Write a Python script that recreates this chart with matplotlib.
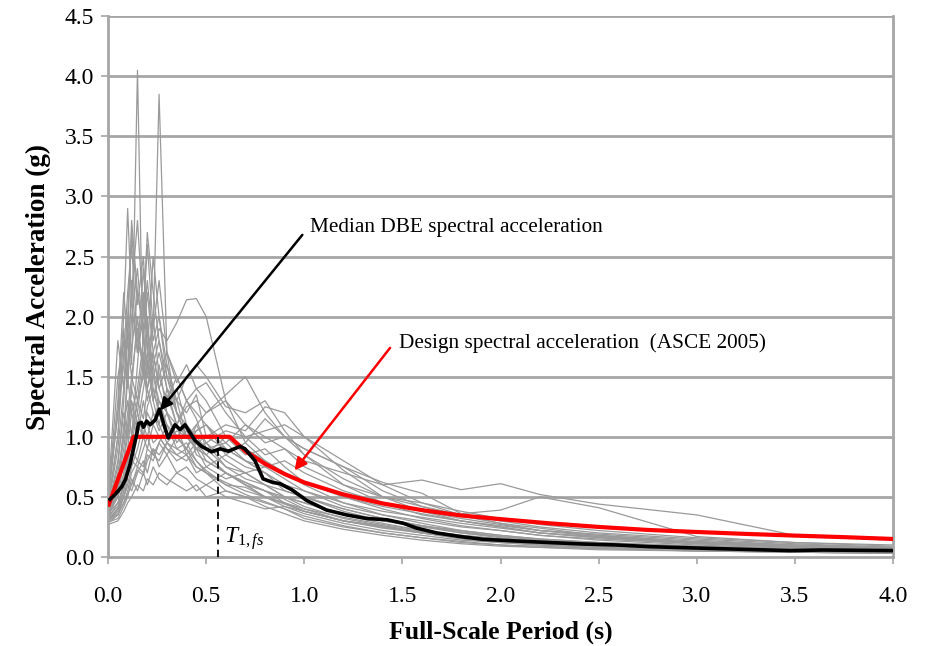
import matplotlib
matplotlib.use("Agg")
import matplotlib.pyplot as plt

plt.rcParams['font.family'] = ['Liberation Serif', 'DejaVu Serif']
plt.rcParams['mathtext.fontset'] = 'custom'
plt.rcParams['mathtext.rm'] = 'Liberation Serif'
plt.rcParams['mathtext.it'] = 'Liberation Serif:italic'

# ---------------- data ----------------
gray_periods = [0, .05, .08, .10, .12, .15, .18, .20, .23, .26, .30, .35, .40, .45, .50,
                .60, .70, .80, .90, 1.0, 1.2, 1.4, 1.6, 1.8, 2.0, 2.2, 2.5, 3.0, 3.5, 4.0]

gray_sa = [
    [0.40, 0.75, 1.3, 1.9, 1.6, 4.05, 1.5, 1.9, 1.3, 1.1, 0.95, 0.85, 0.9, 0.75, 0.7, 0.62, 0.55, 0.5, 0.42, 0.36, 0.28, 0.22, 0.18, 0.14, 0.12, 0.1, 0.08, 0.06, 0.05, 0.04],
    [0.35, 0.5, 0.8, 1.1, 1.4, 1.2, 1.6, 1.5, 1.9, 3.85, 1.7, 1.2, 1.0, 0.95, 0.8, 0.7, 0.6, 0.5, 0.45, 0.4, 0.3, 0.25, 0.2, 0.16, 0.13, 0.11, 0.09, 0.07, 0.05, 0.04],
    [0.45, 1.2, 2.0, 2.9, 2.1, 1.7, 2.4, 1.9, 1.5, 1.3, 1.1, 0.9, 0.95, 0.8, 0.7, 0.6, 0.58, 0.5, 0.45, 0.38, 0.3, 0.24, 0.2, 0.15, 0.12, 0.1, 0.08, 0.06, 0.05, 0.04],
    [0.3, 0.6, 1.0, 1.6, 2.2, 2.8, 2.0, 2.7, 2.2, 1.8, 1.4, 1.2, 1.1, 0.9, 0.85, 0.7, 0.62, 0.55, 0.48, 0.4, 0.33, 0.27, 0.22, 0.18, 0.15, 0.13, 0.1, 0.08, 0.06, 0.05],
    [0.32, 0.45, 0.6, 0.8, 1.0, 1.3, 1.5, 1.4, 1.7, 1.9, 1.8, 1.95, 2.14, 2.15, 2.0, 1.3, 0.95, 0.8, 0.7, 0.6, 0.45, 0.35, 0.3, 0.25, 0.22, 0.18, 0.15, 0.11, 0.08, 0.06],
    [0.38, 0.5, 0.65, 0.85, 0.9, 1.1, 1.0, 1.2, 1.1, 1.3, 1.2, 1.1, 1.25, 1.3, 1.2, 1.35, 1.5, 1.2, 1.0, 0.85, 0.6, 0.45, 0.35, 0.3, 0.25, 0.2, 0.17, 0.12, 0.09, 0.07],
    [0.3, 0.4, 0.55, 0.7, 0.8, 0.75, 0.9, 1.0, 0.85, 0.95, 1.1, 1.0, 0.9, 1.05, 1.1, 0.95, 1.1, 1.0, 0.9, 0.8, 0.7, 0.6, 0.64, 0.56, 0.61, 0.52, 0.44, 0.35, 0.18, 0.14],
    [0.35, 0.5, 0.7, 0.9, 1.2, 1.0, 1.3, 1.1, 0.95, 1.0, 0.9, 0.85, 0.8, 0.9, 0.75, 0.85, 0.95, 1.15, 1.0, 0.9, 0.75, 0.62, 0.53, 0.36, 0.39, 0.5, 0.41, 0.17, 0.12, 0.1],
    [0.28, 0.35, 0.45, 0.55, 0.7, 0.8, 0.75, 0.9, 0.85, 0.8, 0.95, 0.9, 0.85, 0.95, 1.0, 1.1, 1.05, 1.25, 1.2, 1.0, 0.8, 0.6, 0.45, 0.35, 0.28, 0.24, 0.18, 0.12, 0.09, 0.07],
    [0.4, 1.0, 1.7, 2.2, 2.6, 1.8, 1.6, 2.0, 1.4, 1.2, 1.0, 1.1, 0.85, 0.75, 0.7, 0.55, 0.5, 0.42, 0.36, 0.3, 0.23, 0.18, 0.14, 0.11, 0.09, 0.08, 0.06, 0.05, 0.04, 0.03],
    [0.45, 1.5, 1.8, 1.4, 2.0, 2.4, 1.8, 1.6, 2.0, 1.5, 1.3, 1.4, 1.1, 1.0, 0.9, 0.75, 0.7, 0.6, 0.5, 0.42, 0.32, 0.26, 0.2, 0.16, 0.13, 0.11, 0.09, 0.07, 0.05, 0.04],
    [0.33, 0.6, 1.1, 1.3, 1.0, 1.6, 2.2, 1.7, 2.5, 2.0, 1.6, 1.3, 1.2, 1.35, 1.0, 0.9, 0.8, 0.7, 0.55, 0.5, 0.4, 0.32, 0.26, 0.2, 0.17, 0.14, 0.11, 0.08, 0.06, 0.05],
    [0.27, 0.3, 0.38, 0.45, 0.5, 0.6, 0.55, 0.65, 0.6, 0.7, 0.65, 0.6, 0.55, 0.6, 0.5, 0.55, 0.5, 0.45, 0.4, 0.32, 0.25, 0.2, 0.16, 0.12, 0.1, 0.08, 0.07, 0.05, 0.04, 0.03],
    [0.3, 0.35, 0.5, 0.6, 0.55, 0.7, 0.8, 0.7, 0.9, 0.75, 0.85, 0.7, 0.75, 0.65, 0.6, 0.7, 0.6, 0.55, 0.5, 0.45, 0.35, 0.28, 0.22, 0.18, 0.15, 0.12, 0.1, 0.07, 0.06, 0.05],
    [0.42, 0.9, 1.4, 1.8, 1.5, 1.9, 1.6, 1.3, 1.5, 1.7, 1.4, 1.1, 1.3, 1.15, 0.9, 0.95, 0.8, 0.75, 0.65, 0.55, 0.42, 0.35, 0.28, 0.22, 0.18, 0.15, 0.12, 0.09, 0.07, 0.05],
    [0.5, 1.2, 1.6, 2.0, 2.7, 2.1, 2.5, 1.9, 1.6, 1.8, 1.5, 1.3, 1.0, 1.1, 0.95, 0.8, 0.7, 0.6, 0.55, 0.5, 0.38, 0.3, 0.25, 0.2, 0.16, 0.13, 0.1, 0.08, 0.06, 0.05],
    [0.35, 0.55, 0.8, 1.0, 1.3, 1.1, 1.4, 1.6, 1.3, 1.5, 1.7, 1.45, 1.6, 1.4, 1.3, 1.0, 0.85, 0.9, 0.75, 0.62, 0.5, 0.4, 0.32, 0.26, 0.22, 0.18, 0.14, 0.1, 0.07, 0.06],
    [0.3, 0.4, 0.5, 0.65, 0.6, 0.75, 0.7, 0.85, 0.8, 0.95, 0.85, 1.0, 0.9, 1.1, 1.2, 1.3, 1.1, 0.95, 1.0, 0.9, 0.75, 0.55, 0.42, 0.34, 0.28, 0.22, 0.17, 0.12, 0.09, 0.07],
    [0.38, 0.7, 1.0, 1.5, 1.2, 1.4, 1.8, 2.2, 1.7, 1.4, 1.6, 1.2, 1.0, 0.9, 0.95, 0.75, 0.65, 0.6, 0.5, 0.45, 0.36, 0.3, 0.26, 0.22, 0.18, 0.15, 0.12, 0.09, 0.07, 0.05],
    [0.29, 0.32, 0.42, 0.5, 0.65, 0.55, 0.7, 0.6, 0.75, 0.65, 0.6, 0.7, 0.65, 0.55, 0.6, 0.5, 0.45, 0.4, 0.42, 0.38, 0.3, 0.26, 0.21, 0.17, 0.14, 0.12, 0.1, 0.08, 0.06, 0.05],
    [0.44, 1.0, 1.9, 1.5, 2.3, 1.7, 2.0, 2.6, 1.9, 2.3, 1.7, 1.5, 1.3, 1.2, 1.1, 0.9, 0.8, 0.7, 0.6, 0.5, 0.4, 0.32, 0.26, 0.21, 0.17, 0.14, 0.11, 0.08, 0.06, 0.05],
    [0.36, 0.45, 0.6, 0.8, 0.95, 1.2, 1.0, 1.25, 1.4, 1.2, 1.3, 1.5, 1.3, 1.4, 1.45, 1.2, 1.0, 1.05, 1.1, 1.0, 0.72, 0.5, 0.38, 0.3, 0.25, 0.2, 0.16, 0.11, 0.08, 0.06],
    [0.32, 0.4, 0.55, 0.7, 0.9, 0.8, 1.0, 0.9, 1.1, 1.0, 0.9, 0.8, 0.85, 0.7, 0.75, 0.65, 0.7, 0.75, 0.8, 0.7, 0.55, 0.45, 0.38, 0.32, 0.27, 0.22, 0.19, 0.14, 0.1, 0.08],
    [0.48, 1.8, 1.4, 2.0, 1.7, 2.2, 1.9, 1.5, 1.7, 1.4, 1.2, 1.0, 0.9, 0.8, 0.72, 0.6, 0.52, 0.46, 0.4, 0.34, 0.26, 0.2, 0.16, 0.13, 0.1, 0.09, 0.07, 0.05, 0.04, 0.03],
    [0.3, 0.38, 0.5, 0.6, 0.75, 0.9, 1.1, 1.0, 1.2, 1.1, 1.4, 1.3, 1.5, 1.6, 1.5, 1.25, 1.2, 1.3, 1.05, 0.85, 0.65, 0.5, 0.42, 0.35, 0.3, 0.25, 0.2, 0.15, 0.11, 0.08],
    [0.4, 0.8, 1.2, 1.0, 1.4, 2.0, 1.5, 1.7, 1.3, 1.6, 1.2, 1.0, 1.1, 0.85, 0.8, 0.7, 0.62, 0.55, 0.45, 0.38, 0.3, 0.25, 0.21, 0.17, 0.14, 0.12, 0.1, 0.07, 0.05, 0.04],
    [0.34, 0.42, 0.6, 0.75, 1.0, 1.3, 1.15, 1.4, 1.2, 1.05, 1.2, 0.95, 1.05, 0.9, 0.85, 1.0, 0.9, 0.8, 0.7, 0.62, 0.5, 0.42, 0.36, 0.3, 0.26, 0.22, 0.18, 0.13, 0.1, 0.08],
    [0.31, 0.36, 0.45, 0.52, 0.6, 0.72, 0.68, 0.8, 0.9, 0.85, 0.95, 1.05, 1.0, 0.9, 0.95, 1.05, 1.0, 0.85, 0.9, 0.75, 0.6, 0.5, 0.45, 0.38, 0.32, 0.27, 0.22, 0.16, 0.12, 0.09],
    [0.46, 1.3, 2.2, 1.8, 2.8, 2.2, 1.9, 2.3, 1.8, 2.0, 1.5, 1.2, 1.0, 0.95, 0.85, 0.7, 0.6, 0.5, 0.44, 0.38, 0.3, 0.25, 0.2, 0.16, 0.13, 0.11, 0.09, 0.07, 0.05, 0.04],
    [0.37, 0.6, 0.9, 1.2, 1.5, 1.3, 1.7, 1.4, 1.6, 1.2, 1.35, 1.1, 1.0, 1.05, 1.1, 0.85, 0.75, 0.7, 0.6, 0.55, 0.45, 0.38, 0.33, 0.28, 0.24, 0.2, 0.16, 0.12, 0.09, 0.07],
]

median_periods = [0.01, 0.036, 0.07, 0.09, 0.112, 0.146, 0.155, 0.17, 0.18, 0.197, 0.214, 0.24,
                  0.262, 0.285, 0.307, 0.341, 0.367, 0.392, 0.443, 0.477, 0.528, 0.571, 0.613,
                  0.673, 0.698, 0.749, 0.79, 0.84, 0.876, 0.936, 1.012, 1.114, 1.216, 1.318,
                  1.42, 1.505, 1.573, 1.675, 1.794, 1.91, 2.08, 2.25, 2.42, 2.59, 2.76, 3.05,
                  3.475, 3.64, 4.0]
median_sa = [0.48, 0.52, 0.585, 0.65, 0.77, 1.02, 1.11, 1.12, 1.08, 1.13, 1.10, 1.14,
             1.23, 1.10, 0.99, 1.10, 1.06, 1.10, 0.97, 0.92, 0.875, 0.90, 0.88,
             0.92, 0.90, 0.80, 0.65, 0.62, 0.61, 0.56, 0.47, 0.39, 0.35, 0.32,
             0.31, 0.28, 0.24, 0.20, 0.17, 0.147, 0.133, 0.12, 0.108, 0.10, 0.086, 0.072,
             0.053, 0.058, 0.053]

design_periods = [0.0, 0.13, 0.62, 0.7, 0.8, 0.9, 1.0, 1.2, 1.4, 1.6, 1.8, 2.0, 2.25,
                  2.5, 2.75, 3.0, 3.25, 3.5, 3.75, 4.0]
design_sa = [0.42, 1.0, 1.0, 0.88, 0.775, 0.69, 0.62, 0.52, 0.445, 0.39, 0.345, 0.315,
             0.28, 0.25, 0.225, 0.208, 0.192, 0.178, 0.165, 0.15]

t1_period = 0.56
t1_top = 1.0

median_label = 'Median DBE spectral acceleration'
median_arrow_from = (0.99, 2.68)
median_arrow_to = (0.265, 1.22)
median_text_at = (1.03, 2.74)

design_label = 'Design spectral acceleration  (ASCE 2005)'
design_arrow_from = (1.437, 1.74)
design_arrow_to = (0.95, 0.72)
design_text_at = (1.48, 1.78)

x_ticks = [0.0, 0.5, 1.0, 1.5, 2.0, 2.5, 3.0, 3.5, 4.0]
y_ticks = [0.0, 0.5, 1.0, 1.5, 2.0, 2.5, 3.0, 3.5, 4.0, 4.5]

# ---------------- plot ----------------
fig = plt.figure(figsize=(9.33, 6.46), dpi=100)
ax = fig.add_axes([0.1158, 0.1378, 0.8414, 0.8372])

grid_c = '#a6a6a6'
for yv in y_ticks[1:]:
    ax.axhline(yv, color=grid_c, lw=2.0, zorder=0)

for sa in gray_sa:
    ax.plot(gray_periods, sa, color='#9a9a9a', lw=0.9, zorder=2)

ax.plot(design_periods, design_sa, color='#ff0000', lw=3.0, zorder=4,
        solid_capstyle='butt')
ax.plot(median_periods, median_sa, color='black', lw=2.6, zorder=5)

ax.plot([t1_period, t1_period], [0, t1_top], color='black', lw=1.3,
        ls=(0, (4, 3)), zorder=6)
ax.text(t1_period + 0.03, 0.04, r'$T_{\mathit{1,fs}}$', fontsize=17, ha='left', va='bottom')

ax.annotate('', xy=median_arrow_to, xytext=median_arrow_from,
            arrowprops=dict(arrowstyle='-|>', color='black', lw=1.8,
                            shrinkA=0, shrinkB=0, mutation_scale=18), zorder=7)
ax.text(*median_text_at, median_label, fontsize=15.3, ha='left', va='center')

ax.annotate('', xy=design_arrow_to, xytext=design_arrow_from,
            arrowprops=dict(arrowstyle='-|>', color='#ff0000', lw=1.8,
                            shrinkA=0, shrinkB=0, mutation_scale=18), zorder=7)
ax.text(*design_text_at, design_label, fontsize=15.3, ha='left', va='center')

ax.set_xlim(0, 4.0)
ax.set_ylim(0, 4.5)
ax.set_xticks(x_ticks)
ax.set_yticks(y_ticks)
ax.set_xticklabels([f'{v:.1f}' for v in x_ticks])
ax.set_yticklabels([f'{v:.1f}' for v in y_ticks])
ax.tick_params(axis='both', direction='out', length=5, width=1.2, color=grid_c,
               labelsize=17)
ax.tick_params(axis='x', pad=16)
ax.tick_params(axis='y', pad=5)

for s in ['left', 'bottom', 'right']:
    ax.spines[s].set_color(grid_c)
    ax.spines[s].set_linewidth(2.0)
ax.spines['top'].set_visible(False)

ax.set_xlabel('Full-Scale Period (s)', fontsize=18.5, fontweight='bold', labelpad=10)
ax.set_ylabel('Spectral Acceleration (g)', fontsize=19.5, fontweight='bold', labelpad=10)

fig.savefig('out.png', dpi=100)
